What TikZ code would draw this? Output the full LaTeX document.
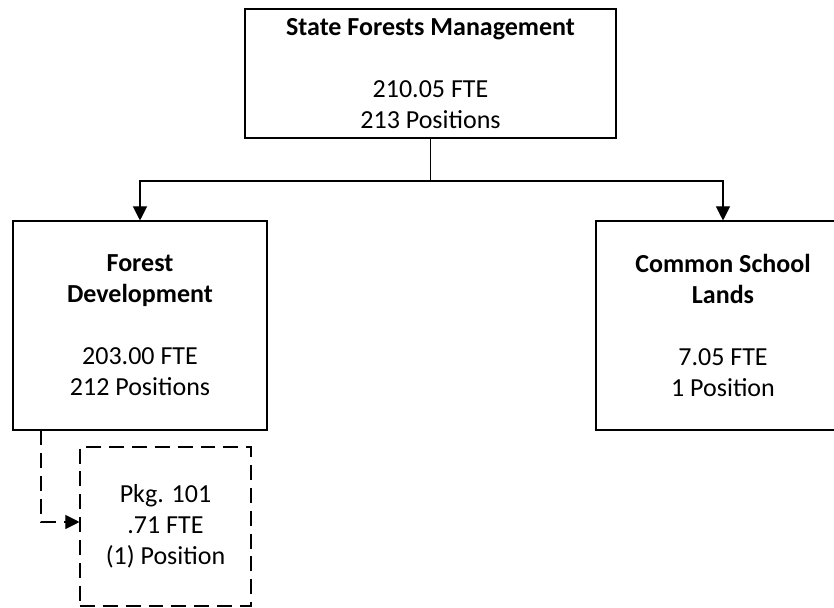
\documentclass[tikz,border=0pt]{standalone}
\usepackage{fontspec}
\setmainfont{Carlito}
\usepackage{tikz}
\usetikzlibrary{arrows.meta, calc}

\tikzset{
  unit/.style={draw, line width=0.6pt, inner sep=0pt, align=center,
    font=\fontsize{14.8pt}{17.6pt}\selectfont},
  pkgbox/.style={unit, dash pattern=on 8.5pt off 4.5pt},
  link/.style={line width=0.6pt},
  arrowlink/.style={link, -{Triangle[length=8pt, width=8pt]}}
}

\begin{document}
\begin{tikzpicture}
\useasboundingbox (0,0) rectangle (16.68,12.16);
\clip (0,0) rectangle (16.68,12.16);
% top: program
\node[unit, minimum width=7.42cm, minimum height=2.58cm] (sfm) at (8.61,10.69)
  {\textbf{State Forests Management}\\[17.6pt]210.05 FTE\\213 Positions};
% middle: the two activities
\node[unit, minimum width=5.08cm, minimum height=4.18cm] (fd) at (2.80,5.65)
  {\textbf{Forest}\\\textbf{Development}\\[17.6pt]203.00 FTE\\212 Positions};
\node[unit, minimum width=5.08cm, minimum height=4.18cm] (csl) at (14.46,5.65)
  {\textbf{Common School}\\\textbf{Lands}\\[17.6pt]7.05 FTE\\1 Position};
% bottom: package
\node[pkgbox, minimum width=3.42cm, minimum height=3.18cm] (pkg) at (3.31,1.63)
  {Pkg. 101\\.71 FTE\\(1) Position};
% connectors
\coordinate (split) at (8.61,8.54);
\coordinate (bend) at (0.82,1.72);
\draw[link] (sfm.south) -- (split);
\draw[arrowlink] (split) -| (fd.north);
\draw[arrowlink] (split) -| (csl.north);
\draw[arrowlink, dash pattern=on 8.5pt off 4.5pt] (fd.south -| bend) -- (bend) -- (pkg.west |- bend);
\end{tikzpicture}
\end{document}
